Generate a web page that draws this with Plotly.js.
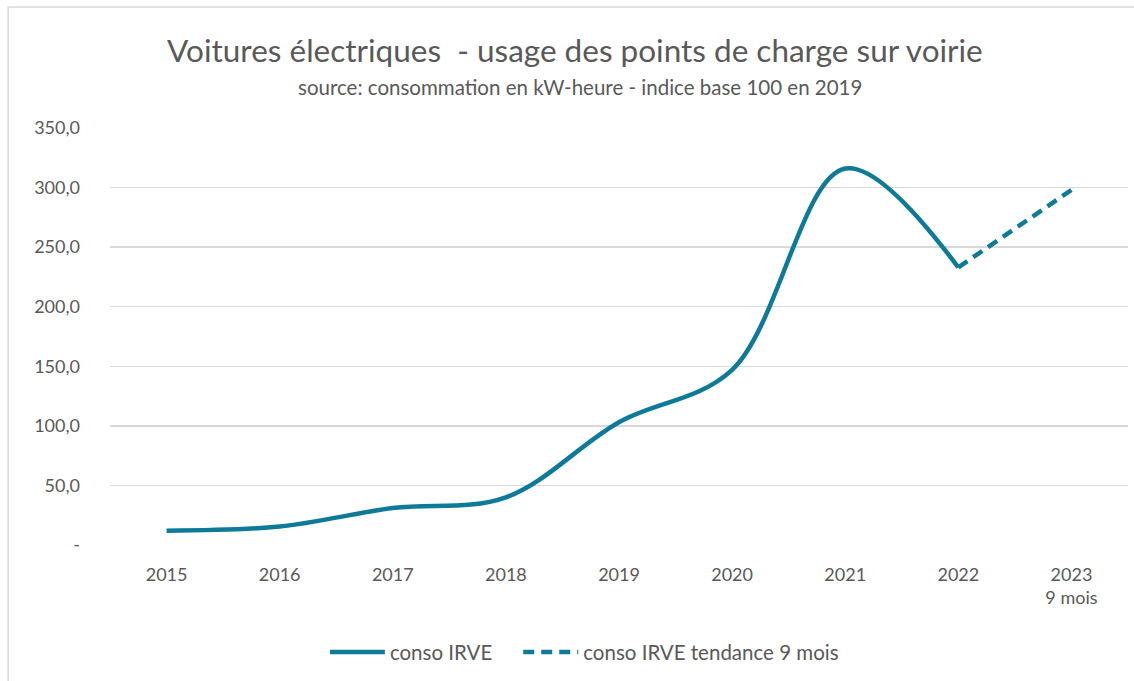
<!DOCTYPE html>
<html>
<head>
<meta charset="utf-8">
<script src="https://cdn.plot.ly/plotly-3.0.1.min.js"></script>
<style>html,body{margin:0;padding:0;background:#fff;}#chart{width:1134px;height:681px;}</style>
</head>
<body>
<div id="chart"></div>
<script>
const categories = ["2015","2016","2017","2018","2019","2020","2021","2022","2023<br>9 mois"];
const consoIRVE = [12, 15.5, 31, 40, 103, 147, 316, 233, null];
const consoTendance = [null, null, null, null, null, null, null, 233, 298];
const yTickVals = [0, 50, 100, 150, 200, 250, 300, 350];
const yTickText = ["-", "50,0", "100,0", "150,0", "200,0", "250,0", "300,0", "350,0"];

const FONT = "Lato, 'Noto Sans', sans-serif";
const GREY = "#595959";
const BLUE = "#0C7A98";

const traces = [
  {x: categories, y: consoIRVE, type: "scatter", mode: "lines", name: "conso IRVE\u00a0\u00a0\u00a0\u00a0",
   line: {color: BLUE, width: 4.5, shape: "spline", smoothing: 1}, hoverinfo: "skip"},
  {x: categories, y: consoTendance, type: "scatter", mode: "lines", name: "conso IRVE tendance 9 mois",
   line: {color: BLUE, width: 4.5, dash: "11px,7px"}, hoverinfo: "skip"}
];

const layout = {
  width: 1134, height: 681,
  paper_bgcolor: "#fff", plot_bgcolor: "#fff",
  margin: {l: 110, r: 6, t: 128, b: 136},
  font: {family: FONT, color: GREY, size: 18},
  title: {text: "Voitures électriques  - usage des points de charge sur voirie",
          font: {family: FONT, size: 31.5, color: GREY}, x: 0.507, xanchor: "center", y: 0.925, yanchor: "middle"},
  annotations: [{text: "source: consommation en kW-heure - indice base 100 en 2019", xref: "paper", yref: "paper",
    x: 0.462, y: 1.098, xanchor: "center", yanchor: "middle", showarrow: false, font: {family: FONT, size: 20.5, color: GREY}}],
  xaxis: {type: "category", range: [-0.5, 8.5], showgrid: false, zeroline: false, showline: false, ticks: "",
          tickfont: {family: FONT, size: 18, color: GREY}, ticklabelstandoff: 17, fixedrange: true},
  yaxis: {range: [0, 350], tickvals: yTickVals, ticktext: yTickText, showgrid: true, gridcolor: "#D9D9D9", gridwidth: 1.3,
          zeroline: false, showline: false, ticks: "", tickfont: {family: FONT, size: 18, color: GREY},
          ticklabelstandoff: 29, fixedrange: true},
  showlegend: true,
  legend: {orientation: "h", x: 0.466, xanchor: "center", y: -0.257, yanchor: "middle",
           font: {family: FONT, size: 20.5, color: GREY}, itemwidth: 55, tracegroupgap: 0},
  shapes: [{type: "rect", xref: "paper", yref: "paper", x0: -0.1, x1: 1.2, y0: -0.5, y1: 1.29,
            line: {color: "#D9D9D9", width: 1.5}, fillcolor: "rgba(0,0,0,0)", layer: "below"}]
};

Plotly.newPlot("chart", traces, layout, {displayModeBar: false, staticPlot: true});
</script>
</body>
</html>
